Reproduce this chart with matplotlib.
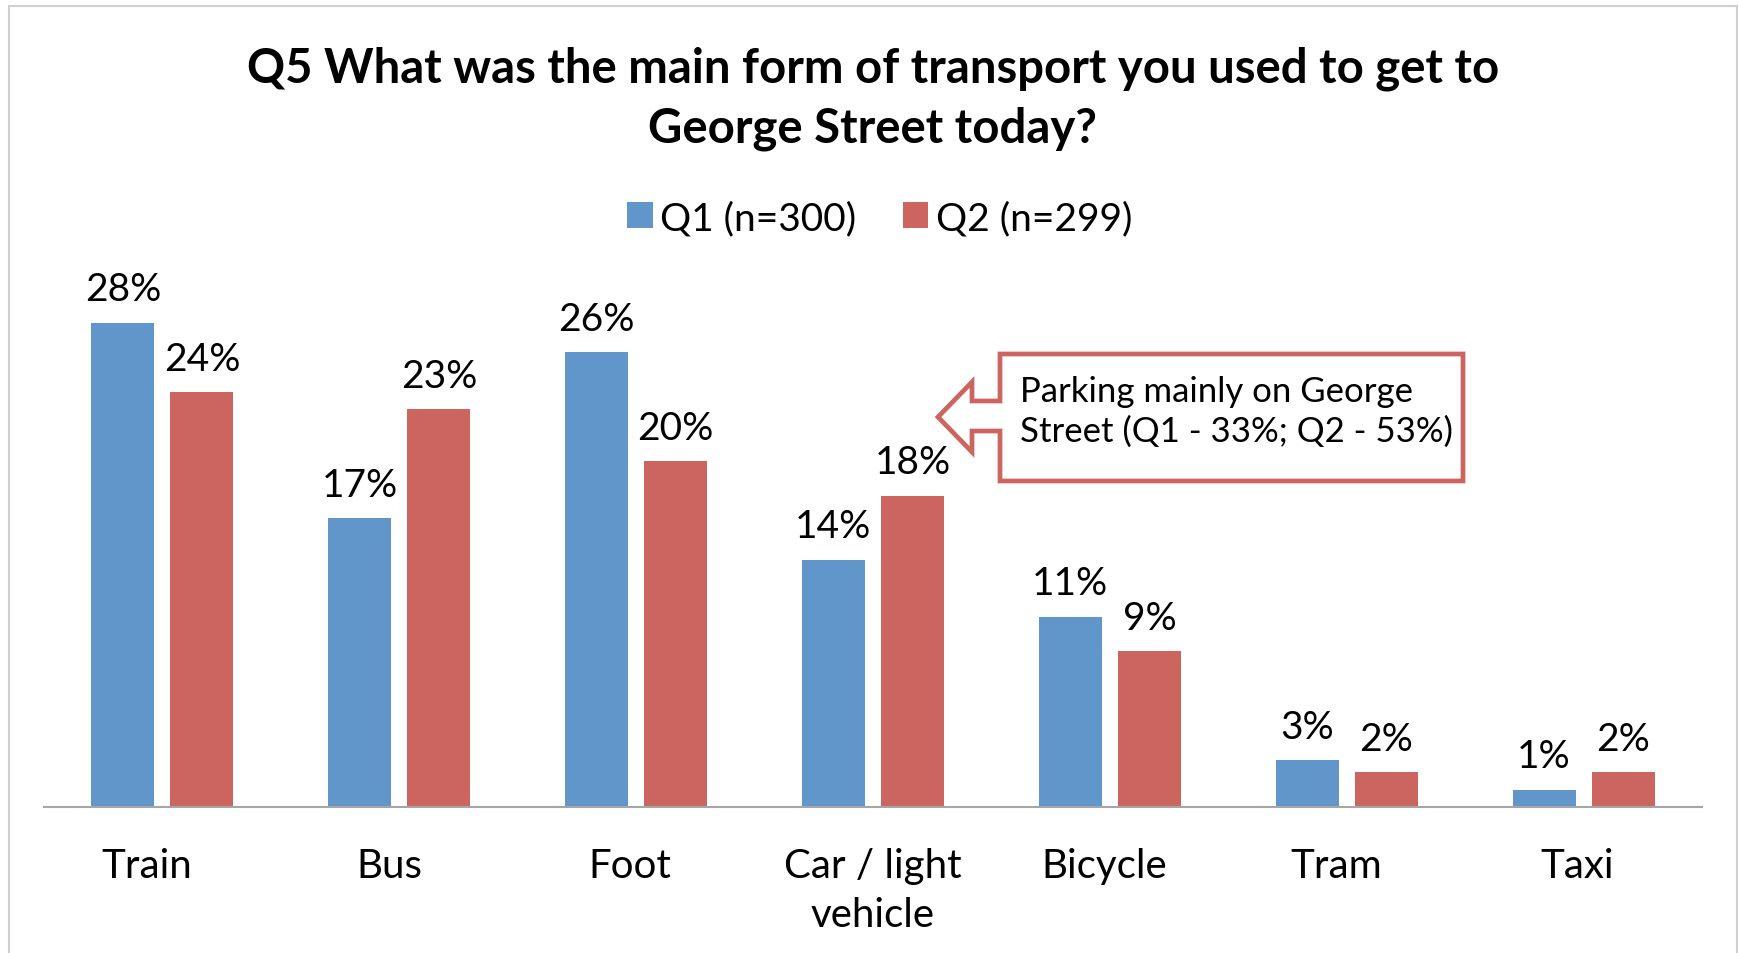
import numpy as np
import matplotlib.pyplot as plt
from matplotlib.patches import Polygon, Rectangle
from matplotlib.transforms import ScaledTranslation

plt.rcParams['font.family'] = ['Lato', 'DejaVu Sans']

# data
categories = ["Train", "Bus", "Foot", "Car / light\nvehicle", "Bicycle", "Tram", "Taxi"]
q1_values = [28.0, 16.7, 26.3, 14.3, 11.0, 2.7, 1.0]
q2_values = [24.0, 23.0, 20.0, 18.0, 9.0, 2.0, 2.0]
q1_labels = ["28%", "17%", "26%", "14%", "11%", "3%", "1%"]
q2_labels = ["24%", "23%", "20%", "18%", "9%", "2%", "2%"]
series_names = ["Q1 (n=300)", "Q2 (n=299)"]
title = "Q5 What was the main form of transport you used to get to\nGeorge Street today?"
note = "Parking mainly on George\nStreet (Q1 - 33%; Q2 - 53%)"

blue = '#6096CA'
red = '#CC6560'

W, H = 1739, 954
fig = plt.figure(figsize=(W/100, H/100), dpi=100)

# outer chart border
fig.patches.append(Rectangle((9/W, -0.05), (1737-9)/W, 1.05 - 7/H, transform=fig.transFigure,
                             fill=False, edgecolor='#D0D0D0', lw=1.5))

ax = fig.add_axes([44/W, (H-808)/H, (1702-44)/W, 519/H])
x = np.arange(len(categories))
bw = 0.266
off = 0.167
b1 = ax.bar(x - off, q1_values, bw, color=blue, label=series_names[0])
b2 = ax.bar(x + off, q2_values, bw, color=red, label=series_names[1])
ax.set_xlim(-0.5, len(categories) - 0.5)
ax.set_ylim(0, 30)

for rects, labs in [(b1, q1_labels), (b2, q2_labels)]:
    for r, lab in zip(rects, labs):
        ax.annotate(lab, (r.get_x() + r.get_width()/2, r.get_height()),
                    xytext=(0, 11), textcoords='offset points',
                    ha='center', va='bottom', fontsize=28)

for s in ['top', 'right', 'left']:
    ax.spines[s].set_visible(False)
ax.spines['bottom'].set_color('#A6A6A6')
ax.spines['bottom'].set_linewidth(1.5)
ax.set_yticks([])
ax.set_xticks(x)
ax.set_xticklabels(categories, fontsize=29, linespacing=1.39)
ax.tick_params(axis='x', length=0, pad=29)
# category labels sit a little left of their bar pairs in the reference
nudges = [-16, -10, -6, 0, -6, -10, -6]
for lab, dx in zip(ax.get_xticklabels(), nudges):
    lab.set_transform(lab.get_transform() + ScaledTranslation(dx/100, 0, fig.dpi_scale_trans))

fig.text(873/W, 1 - 99/H, title, ha='center', va='center', fontsize=34,
         fontweight='bold', linespacing=1.43)

fig.legend(handles=[b1, b2], loc='center', bbox_to_anchor=(880/W, 1 - 219/H),
           ncol=2, frameon=False, fontsize=28, handlelength=0.65, handleheight=0.65,
           handletextpad=0.2, columnspacing=1.2)

# callout arrow shape
pts = [(1000, 355), (1463, 355), (1463, 482), (1000, 482), (1000, 432), (972, 432),
       (972, 453), (938, 418), (972, 383), (972, 402), (1000, 402)]
fig.patches.append(Polygon([(px/W, 1 - py/H) for px, py in pts], closed=True,
                           transform=fig.transFigure, facecolor='white',
                           edgecolor=red, lw=3.4))
fig.text(1020/W, 1 - 412/H, note, ha='left', va='center', fontsize=25, linespacing=1.3)

fig.savefig('out.png', dpi=100)
